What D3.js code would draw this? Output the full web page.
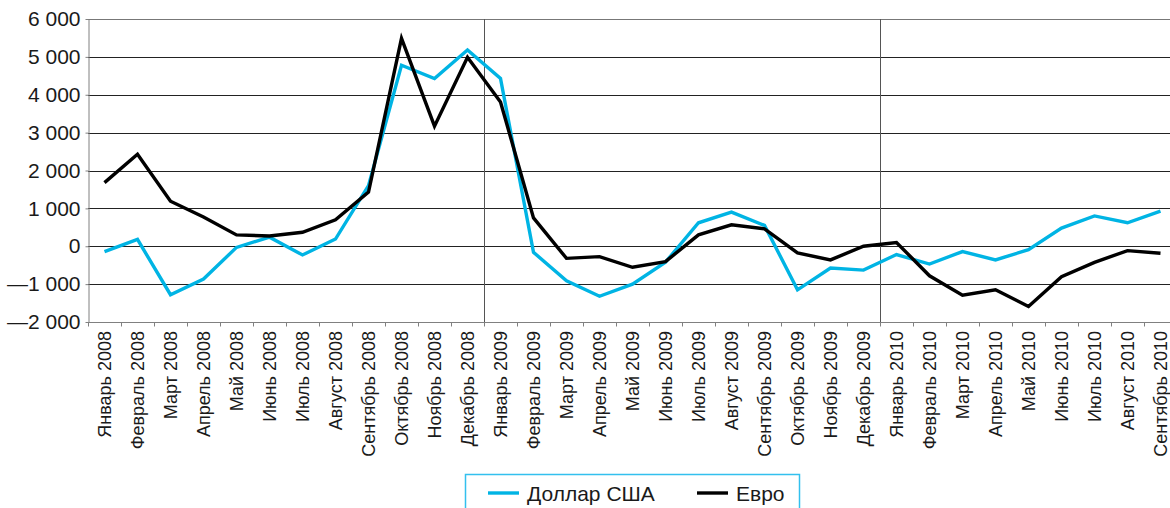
<!DOCTYPE html>
<html>
<head>
<meta charset="utf-8">
<script src="https://cdn.jsdelivr.net/npm/d3@7"></script>
<style>
  body { margin: 0; background: #fff; }
  svg { display: block; font-family: "Liberation Sans", Arial, sans-serif; }
  .axis path, .axis line { stroke: #808080; }
</style>
</head>
<body>
<div class="chart"></div>
<script>
// месяцы
const months = [
  'Январь 2008','Февраль 2008','Март 2008','Апрель 2008','Май 2008','Июнь 2008',
  'Июль 2008','Август 2008','Сентябрь 2008','Октябрь 2008','Ноябрь 2008','Декабрь 2008',
  'Январь 2009','Февраль 2009','Март 2009','Апрель 2009','Май 2009','Июнь 2009',
  'Июль 2009','Август 2009','Сентябрь 2009','Октябрь 2009','Ноябрь 2009','Декабрь 2009',
  'Январь 2010','Февраль 2010','Март 2010','Апрель 2010','Май 2010','Июнь 2010',
  'Июль 2010','Август 2010','Сентябрь 2010'
];
const usd = [
  -140, 180, -1280, -865, -30, 240, -230, 190, 1600, 4780, 4430, 5180,
  4430, -160, -910, -1320, -1000, -420, 620, 900, 550, -1150, -575, -630,
  -220, -470, -140, -360, -90, 480, 800, 620, 930
];
const eur = [
  1680, 2430, 1190, 770, 300, 270, 370, 700, 1430, 5490, 3170, 4990,
  3810, 750, -320, -275, -555, -405, 300, 565, 460, -175, -360, 0,
  100, -780, -1290, -1150, -1590, -805, -425, -115, -185
];
const yTicks = [-2000, -1000, 0, 1000, 2000, 3000, 4000, 5000, 6000];
const yTickLabels = ['—2 000', '—1 000', '0', '1 000', '2 000', '3 000', '4 000', '5 000', '6 000'];
const seriesNames = ['Доллар США', 'Евро'];
const seriesColors = ['#00b4e4', '#000000'];

function setupCanvas(){
    const svg_width = 1170;
    const svg_height = 508;
    const plot = {left:88, right:1177, top:19, bottom:322};

    const svg = d3.select('.chart').append('svg')
        .attr('width', svg_width).attr('height', svg_height);

    const xScale = d3.scaleBand().domain(months).range([plot.left, plot.right]).padding(0);
    const xEdge = d3.scaleLinear().domain([0, months.length]).range([plot.left, plot.right]);
    const yScale = d3.scaleLinear().domain([-2000, 6000]).range([plot.bottom, plot.top]);

    // gridlines
    svg.append('g').selectAll('line')
        .data(yTicks.filter(d => d > -2000))
        .join('line')
        .attr('x1', plot.left).attr('x2', svg_width)
        .attr('y1', d => Math.round(yScale(d)) + 0.5).attr('y2', d => Math.round(yScale(d)) + 0.5)
        .style('stroke', d => d === 6000 ? '#777' : '#222')
        .style('stroke-width', 1);

    // year separators
    svg.append('g').selectAll('line')
        .data(['Январь 2009', 'Январь 2010'])
        .join('line')
        .attr('x1', d => Math.round(xEdge(months.indexOf(d))) + 0.5)
        .attr('x2', d => Math.round(xEdge(months.indexOf(d))) + 0.5)
        .attr('y1', plot.top).attr('y2', plot.bottom)
        .style('stroke', '#555').style('stroke-width', 1);

    // y axis
    const yAxis = d3.axisLeft(yScale).tickValues(yTicks)
        .tickFormat((d, i) => yTickLabels[i])
        .tickSizeInner(3).tickSizeOuter(0).tickPadding(5);
    const yAxisDraw = svg.append('g').attr('class', 'y axis')
        .attr('transform', `translate(${plot.left + 0.5},0)`)
        .call(yAxis);
    yAxisDraw.selectAll('text')
        .style('font-size', '21px').style('fill', '#1a1a1a');

    // x axis: ticks on band edges
    const xTicksAxis = d3.axisBottom(xEdge).tickValues(d3.range(0, months.length + 1))
        .tickFormat('').tickSizeInner(4).tickSizeOuter(0);
    svg.append('g').attr('class', 'x axis')
        .attr('transform', `translate(0,${plot.bottom + 0.5})`)
        .call(xTicksAxis);
    svg.select('.x.axis .domain').attr('d', `M${plot.left},0H${svg_width}`);

    // x labels
    svg.append('g').selectAll('text')
        .data(months)
        .join('text')
        .attr('transform', d => `translate(${xScale(d) + xScale.bandwidth() / 2},${plot.bottom + 9}) rotate(-90)`)
        .attr('dy', '0.36em')
        .style('text-anchor', 'end')
        .style('font-size', '18px').style('fill', '#1a1a1a')
        .text(d => d);

    // lines
    const line = d3.line()
        .x((d, i) => xScale(months[i]) + xScale.bandwidth() / 2)
        .y(d => yScale(d));
    [usd, eur].forEach((series, k) => {
        svg.append('path')
            .datum(series)
            .attr('d', line)
            .style('fill', 'none')
            .style('stroke', seriesColors[k])
            .style('stroke-width', 3.4)
            .style('stroke-linejoin', 'miter');
    });

    // legend
    const legend = svg.append('g').attr('class', 'legend');
    legend.append('rect')
        .attr('x', 465.5).attr('y', 474.5).attr('width', 334).attr('height', 40)
        .style('fill', '#fff').style('stroke', '#33c0ee').style('stroke-width', 1.5);
    const legendX = [488, 697];
    seriesNames.forEach((name, k) => {
        legend.append('line')
            .attr('x1', legendX[k]).attr('x2', legendX[k] + 31)
            .attr('y1', 493).attr('y2', 493)
            .style('stroke', seriesColors[k]).style('stroke-width', 3.4);
        legend.append('text')
            .attr('x', legendX[k] + 39).attr('y', 493).attr('dy', '0.36em')
            .style('font-size', '21px').style('fill', '#1a1a1a')
            .text(name);
    });
}

setupCanvas();
</script>
</body>
</html>
